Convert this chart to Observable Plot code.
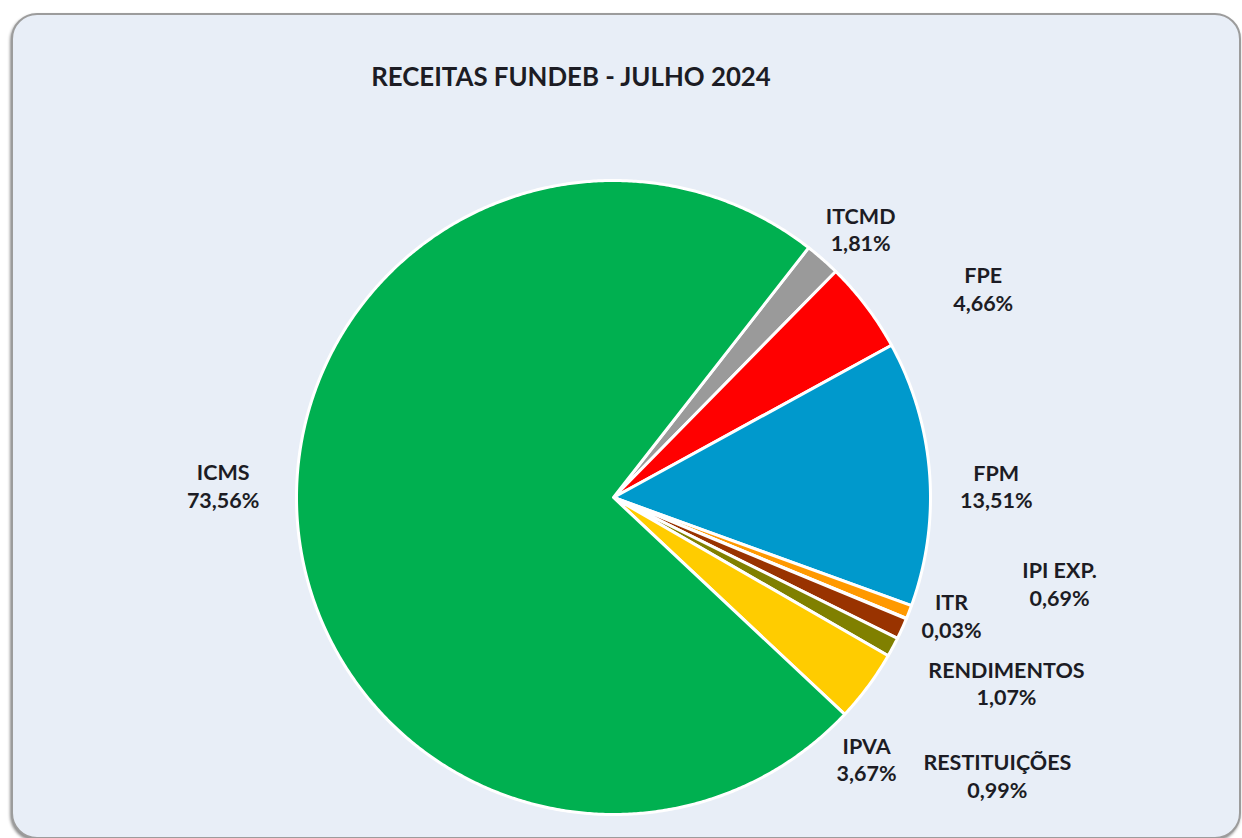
<!DOCTYPE html>
<html>
<head>
<meta charset="utf-8">
<script src="https://cdn.jsdelivr.net/npm/d3@7"></script>
<script src="https://cdn.jsdelivr.net/npm/@observablehq/plot@0.6"></script>
<style>
  html, body { margin: 0; padding: 0; background: #ffffff; }
  body { width: 1242px; height: 838px; overflow: hidden; position: relative; font-family: Lato, "Open Sans", sans-serif; }
  #box {
    position: absolute; left: 11px; top: 13px; width: 1226px; height: 822px;
    border: 2px solid #9c9c9c; border-radius: 26px; background: #E8EEF7;
    box-shadow: -1px 2px 3px rgba(0,0,0,0.45);
  }
  #title {
    position: absolute; left: 0; width: 1142px; top: 61px; text-align: center;
    font: bold 25.8px Lato, sans-serif; color: #1c1c24; letter-spacing: 0px;
  }
  #chart { position: absolute; left: 0; top: 0; }
</style>
</head>
<body>
<div id="box"></div>
<div id="title">RECEITAS FUNDEB - JULHO 2024</div>
<div id="chart"></div>
<script>
// ---- data ----
const categories = ["ITCMD", "FPE", "FPM", "IPI EXP.", "ITR", "RENDIMENTOS", "RESTITUIÇÕES", "IPVA", "ICMS"];
const shares = [1.81, 4.66, 13.51, 0.69, 0.03, 1.07, 0.99, 3.67, 73.56];
const sliceColors = ["#9a9a9a", "#ff0000", "#0099cc", "#ff9900", "#7f7f7f", "#993300", "#808000", "#ffcc00", "#00b050"];
const firstSliceAngle = 38; // degrees clockwise from 12 o'clock
// label placement (radius as fraction of pie radius, angle in degrees clockwise from 12 o'clock)
const labelRadius = [1.152, 1.34, 1.208, 1.433, 1.129, 1.37, 1.495, 1.147, 1.232];
const labelAngle = [42.6, 60.5, 88.2, 100.9, 109.2, 115.2, 125.9, 135.9, 271.8];

// ---- layout ----
const W = 1242, H = 838, cx = 613, cy = 497, R = 317;

const rad = Math.PI / 180;
const arcs = d3.pie().sort(null)
  .startAngle(firstSliceAngle * rad)
  .endAngle(firstSliceAngle * rad + 2 * Math.PI)(shares);

const poly = [];
arcs.forEach((a, i) => {
  const name = categories[i];
  poly.push({name, x: 0, y: 0});
  const n = Math.max(2, Math.ceil((a.endAngle - a.startAngle) / (0.4 * rad)));
  for (let k = 0; k <= n; k++) {
    const t = a.startAngle + (a.endAngle - a.startAngle) * k / n;
    poly.push({name, x: Math.sin(t), y: Math.cos(t)});
  }
});

const labels = categories.map((name, i) => ({
  name,
  pct: shares[i].toFixed(2).replace(".", ",") + "%",
  x: labelRadius[i] * Math.sin(labelAngle[i] * rad),
  y: labelRadius[i] * Math.cos(labelAngle[i] * rad)
}));

const chart = Plot.plot({
  width: W, height: H, margin: 0,
  x: {domain: [-1, 1], range: [cx - R, cx + R], axis: null},
  y: {domain: [-1, 1], range: [cy + R, cy - R], axis: null},
  color: {domain: categories, range: sliceColors},
  style: {background: "transparent", overflow: "visible", fontFamily: "Lato, sans-serif"},
  marks: [
    Plot.line(poly, {x: "x", y: "y", z: "name", fill: "name", stroke: "white", strokeWidth: 3,
      strokeLinejoin: "round", curve: "linear-closed"}),
    Plot.text(labels, {x: "x", y: "y", text: d => d.name + "\n" + d.pct,
      fontSize: 21.5, fontWeight: "bold", fill: "#1c1c24", lineHeight: 1.27, fontFamily: "Lato, sans-serif"})
  ]
});
document.getElementById("chart").appendChild(chart);
</script>
</body>
</html>
